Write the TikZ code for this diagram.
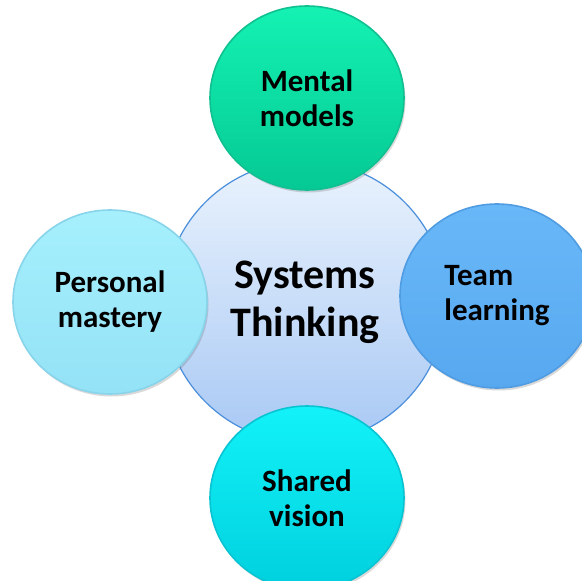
\documentclass[tikz,border=0pt]{standalone}
\usepackage{fontspec}
\setmainfont{Carlito}
\usetikzlibrary{shapes.geometric,shadows}
\definecolor{ctrtop}{HTML}{EAF3FD}
\definecolor{ctrbot}{HTML}{A8C8F4}
\definecolor{ctrrim}{HTML}{4A8EDC}
\definecolor{grntop}{HTML}{14F2B2}
\definecolor{grnbot}{HTML}{05C994}
\definecolor{grnrim}{HTML}{10C090}
\definecolor{lcytop}{HTML}{A6F0FD}
\definecolor{lcybot}{HTML}{94E2F6}
\definecolor{lcyrim}{HTML}{88D4EA}
\definecolor{blutop}{HTML}{68B8F8}
\definecolor{blubot}{HTML}{58A8F0}
\definecolor{blurim}{HTML}{509CE2}
\definecolor{cyntop}{HTML}{12F2F8}
\definecolor{cynbot}{HTML}{00D0DE}
\definecolor{cynrim}{HTML}{08C4D2}
\tikzset{
  hub/.style={circle, minimum size=282pt, inner sep=0pt, top color=ctrtop, bottom color=ctrbot,
    draw=ctrrim, line width=1.2pt, align=center, font=\fontsize{42}{48}\selectfont\bfseries},
  bubble/.style={ellipse, minimum width=194pt, minimum height=184pt, inner sep=0pt,
    line width=1.6pt, align=center, font=\fontsize{31}{35}\selectfont\bfseries,
    drop shadow={shadow xshift=1.5pt, shadow yshift=-2.5pt, opacity=0.25, fill=black!60}},
}
\begin{document}
\begin{tikzpicture}[x=1pt,y=-1pt]
\useasboundingbox (0,0) rectangle (582,581);
\clip (0,0) rectangle (582,581);
\node[hub] (hub) at (305,302) {Systems\\Thinking};
\node[bubble, top color=grntop, bottom color=grnbot, draw=grnrim] (mental) at (307,98) {Mental\\models};
\node[bubble, top color=lcytop, bottom color=lcybot, draw=lcyrim] (personal) at (110,302) {Personal\\mastery};
\node[bubble, top color=blutop, bottom color=blubot, draw=blurim, align=left] (team) at (497,296) {Team\\learning};
\node[bubble, top color=cyntop, bottom color=cynbot, draw=cynrim] (shared) at (307,498) {Shared\\vision};
\end{tikzpicture}
\end{document}
